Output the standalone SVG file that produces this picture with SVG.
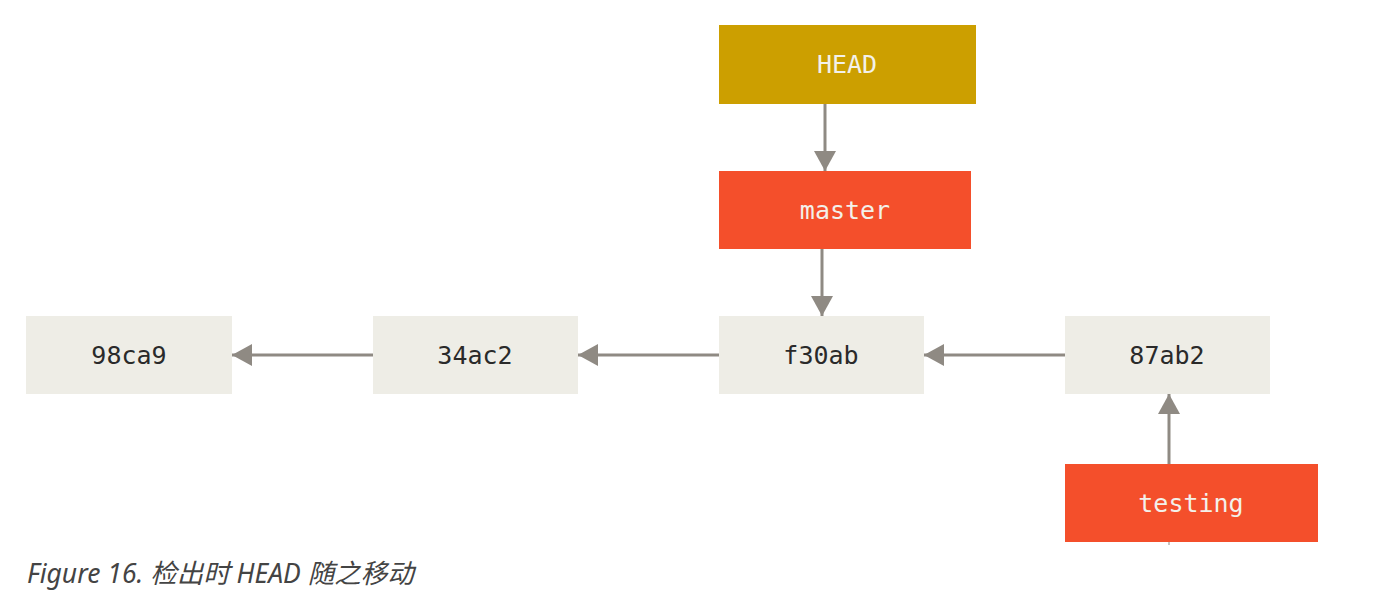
<svg xmlns="http://www.w3.org/2000/svg" width="1377" height="615" viewBox="0 0 1377 615">
<defs>
<style>
.commit{fill:#eeede6}
.ref{fill:#f44f2b}
.head{fill:#cc9f00}
.t{font-family:"DejaVu Sans Mono","Liberation Mono",monospace;font-size:25px;text-anchor:middle;dominant-baseline:central}
.dark{fill:#2a2a2a}
.light{fill:#f3f1ea}
.edge{stroke:#8f8a83;stroke-width:3;fill:none}
.cap{font-family:"Noto Sans","Noto Sans CJK SC",sans-serif;font-style:italic;font-size:26.5px;fill:#444}
</style>
<marker id="ah" viewBox="0 0 20 22" refX="20" refY="11" markerWidth="20" markerHeight="22" markerUnits="userSpaceOnUse" orient="auto">
<path d="M0,0 L20,11 L0,22 Z" fill="#8f8a83"/>
</marker>
</defs>
<rect width="1377" height="615" fill="#fff"/>
<g id="connectors">
<line class="edge" x1="825" y1="104" x2="825" y2="171" marker-end="url(#ah)"/>
<line class="edge" x1="822" y1="249" x2="822" y2="316" marker-end="url(#ah)"/>
<line class="edge" x1="373" y1="355" x2="232" y2="355" marker-end="url(#ah)"/>
<line class="edge" x1="719" y1="355" x2="578" y2="355" marker-end="url(#ah)"/>
<line class="edge" x1="1065" y1="355" x2="924" y2="355" marker-end="url(#ah)"/>
<line class="edge" x1="1169" y1="464" x2="1169" y2="394" marker-end="url(#ah)"/>
<line x1="1169" y1="542" x2="1169" y2="545" stroke="#8f8a83" stroke-width="1"/>
</g>
<g id="HEAD"><rect class="head" x="719" y="25" width="257" height="79"/><text class="t light" x="847" y="64">HEAD</text></g>
<g id="master"><rect class="ref" x="719" y="171" width="252" height="78"/><text class="t light" x="845" y="210">master</text></g>
<g id="c98ca9"><rect class="commit" x="26" y="316" width="206" height="78"/><text class="t dark" x="129" y="355">98ca9</text></g>
<g id="c34ac2"><rect class="commit" x="373" y="316" width="205" height="78"/><text class="t dark" x="475" y="355">34ac2</text></g>
<g id="cf30ab"><rect class="commit" x="719" y="316" width="205" height="78"/><text class="t dark" x="821" y="355">f30ab</text></g>
<g id="c87ab2"><rect class="commit" x="1065" y="316" width="205" height="78"/><text class="t dark" x="1167" y="355">87ab2</text></g>
<g id="testing"><rect class="ref" x="1065" y="464" width="253" height="78"/><text class="t light" x="1191" y="503">testing</text></g>
<text class="cap" x="27" y="583">Figure 16. 检出时 HEAD 随之移动</text>
</svg>
